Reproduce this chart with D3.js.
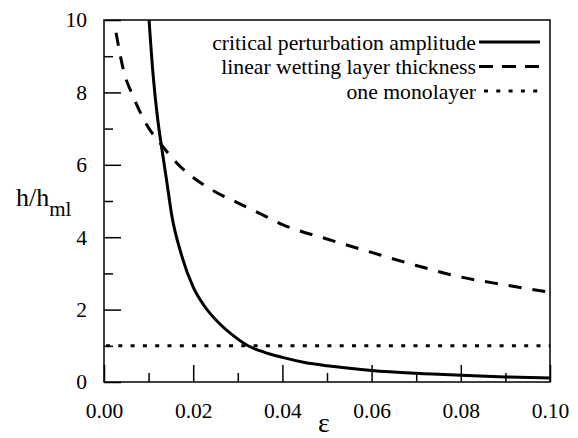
<!DOCTYPE html>
<html>
<head>
<meta charset="utf-8">
<script src="https://cdn.jsdelivr.net/npm/d3@7"></script>
<style>
  body { margin: 0; background: #fff; }
  svg text { font-family: 'Liberation Serif', 'DejaVu Serif', serif; fill: #000; }
</style>
</head>
<body>
<svg id="chart"></svg>
<script>
// values
const criticalEps = [0.0101, 0.011, 0.012, 0.0129, 0.014, 0.0152, 0.0174, 0.02, 0.0225, 0.0256, 0.029, 0.0323, 0.036, 0.04, 0.045, 0.05, 0.055, 0.06, 0.07, 0.08, 0.09, 0.1];
const criticalH = [10, 8.5, 7.3, 6.5, 5.6, 4.6, 3.5, 2.62, 2.1, 1.65, 1.28, 1.0, 0.82, 0.68, 0.54, 0.45, 0.38, 0.32, 0.24, 0.185, 0.14, 0.11];
const wettingEps = [0.0027, 0.0045, 0.0065, 0.0096, 0.0129, 0.0163, 0.02, 0.025, 0.03, 0.035, 0.04, 0.05, 0.06, 0.07, 0.08, 0.09, 0.1];
const wettingH = [9.65, 8.55, 7.9, 7.1, 6.55, 6.05, 5.65, 5.25, 4.95, 4.65, 4.35, 3.95, 3.58, 3.22, 2.9, 2.68, 2.48];
const monolayerH = 1;
const xTicks = [0, 0.02, 0.04, 0.06, 0.08, 0.1];
const yTicks = [0, 2, 4, 6, 8, 10];
const legendLabels = ['critical perturbation amplitude', 'linear wetting layer thickness', 'one monolayer'];

const serif = "'Liberation Serif', 'DejaVu Serif', serif";
const width = 578, height = 438;
const margin = { top: 20, right: 28, bottom: 56, left: 104 };
const w = width - margin.left - margin.right;
const h = height - margin.top - margin.bottom;

const svg = d3.select('#chart')
    .attr('width', width)
    .attr('height', height);

const chart = svg.append('g')
    .attr('transform', `translate(${margin.left},${margin.top})`);

const xScale = d3.scaleLinear().domain([0, 0.1]).range([0, w]);
const yScale = d3.scaleLinear().domain([0, 10]).range([h, 0]);

// Inward ticks, major and minor
const xAxisMajor = d3.axisBottom(xScale)
    .tickValues(xTicks)
    .tickSize(-17)
    .tickPadding(21)
    .tickFormat(d3.format('.2f'));
const xAxisMinor = d3.axisBottom(xScale)
    .tickValues(d3.range(1, 10, 2).map(i => i / 100))
    .tickSize(-9)
    .tickFormat('');
const yAxisMajor = d3.axisLeft(yScale)
    .tickValues(yTicks)
    .tickSize(-17)
    .tickPadding(17)
    .tickFormat(d3.format('d'));
const yAxisMinor = d3.axisLeft(yScale)
    .tickValues([1, 3, 5, 7, 9])
    .tickSize(-9)
    .tickFormat('');

const styleAxis = g => {
  g.attr('font-family', serif).attr('font-size', 21.5);
  g.select('.domain').remove();
  g.selectAll('line').attr('stroke', '#000').attr('stroke-width', 1.5);
};

chart.append('g').attr('transform', `translate(0,${h})`).call(xAxisMajor).call(styleAxis);
chart.append('g').attr('transform', `translate(0,${h})`).call(xAxisMinor).call(styleAxis);
chart.append('g').call(yAxisMajor).call(styleAxis);
chart.append('g').call(yAxisMinor).call(styleAxis);

// frame
chart.append('rect')
    .attr('width', w)
    .attr('height', h)
    .attr('fill', 'none')
    .attr('stroke', '#000')
    .attr('stroke-width', 1.5);

const line = d3.line()
    .x(d => xScale(d[0]))
    .y(d => yScale(d[1]))
    .curve(d3.curveMonotoneX);

chart.append('path')
    .datum(criticalEps.map((e, i) => [e, criticalH[i]]))
    .attr('d', line)
    .attr('fill', 'none')
    .attr('stroke', '#000')
    .attr('stroke-width', 3);

chart.append('path')
    .datum(wettingEps.map((e, i) => [e, wettingH[i]]))
    .attr('d', line)
    .attr('fill', 'none')
    .attr('stroke', '#000')
    .attr('stroke-width', 3)
    .attr('stroke-dasharray', '13,11');

chart.append('line')
    .attr('x1', xScale(0) + 2)
    .attr('x2', xScale(0.1))
    .attr('y1', yScale(monolayerH))
    .attr('y2', yScale(monolayerH))
    .attr('stroke', '#000')
    .attr('stroke-width', 3)
    .attr('stroke-dasharray', '4,8.3');

// Legend
const dashes = [null, '14,9', '4,8.3'];
const legend = svg.append('g')
    .attr('font-family', serif)
    .attr('font-size', 21.7);
legendLabels.forEach((lab, i) => {
  const y = 42 + i * 24.5;
  legend.append('text')
      .attr('x', 476)
      .attr('y', y)
      .attr('dy', '0.35em')
      .attr('text-anchor', 'end')
      .text(lab);
  legend.append('line')
      .attr('x1', i === 2 ? 484 : 479)
      .attr('x2', 540)
      .attr('y1', y)
      .attr('y2', y)
      .attr('stroke', '#000')
      .attr('stroke-width', 3)
      .attr('stroke-dasharray', dashes[i]);
});

// Axis titles
const yTitle = svg.append('text')
    .attr('x', 16)
    .attr('y', 206)
    .attr('font-family', serif)
    .attr('font-size', 26);
yTitle.append('tspan').text('h/h');
yTitle.append('tspan')
    .attr('dy', 10)
    .attr('font-size', 21)
    .text('ml');

svg.append('text')
    .attr('x', 324)
    .attr('y', 432)
    .attr('text-anchor', 'middle')
    .attr('font-family', serif)
    .attr('font-size', 28)
    .text('ε');
</script>
</body>
</html>
